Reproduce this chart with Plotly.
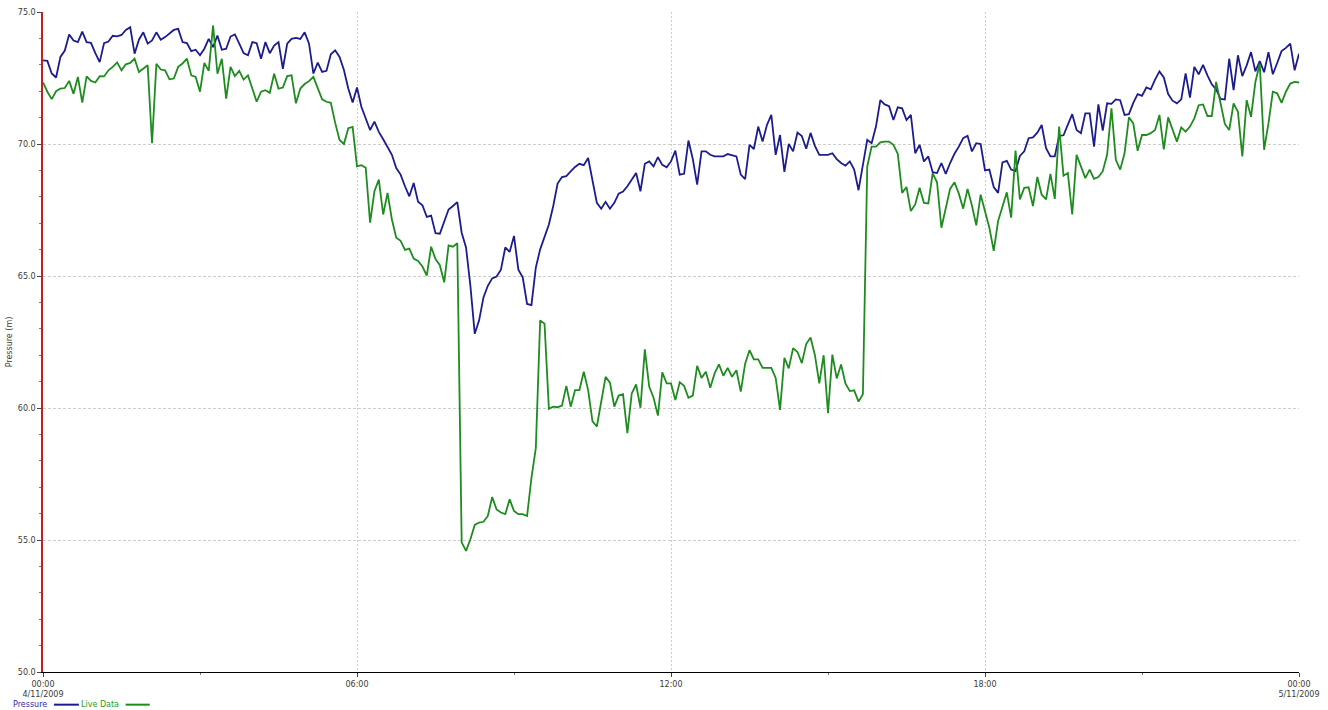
import pandas as pd
import plotly.graph_objects as go

# 5-minute samples over one day, 4 Nov 2009 00:00 -> 5 Nov 2009 00:00
times = pd.date_range("2009-11-04 00:00", periods=289, freq="5min")

pressure = [
    73.17, 73.15, 72.67, 72.52, 73.30, 73.54, 74.15, 73.92, 73.86, 74.26, 73.86, 73.83,
    73.44, 73.10, 73.82, 73.88, 74.10, 74.08, 74.13, 74.32, 74.42, 73.42, 73.95, 74.23,
    73.80, 73.92, 74.23, 73.95, 74.05, 74.20, 74.32, 74.36, 73.86, 73.82, 73.52, 73.57,
    73.36, 73.61, 73.98, 73.67, 74.11, 73.57, 73.61, 74.07, 74.15, 73.80, 73.44, 73.36,
    73.86, 73.82, 73.23, 73.86, 73.44, 73.73, 73.86, 72.85, 73.80, 73.98, 74.02, 73.98,
    74.23, 73.80, 72.67, 73.08, 72.73, 72.77, 73.40, 73.55, 73.30, 72.80, 72.10, 71.57,
    72.14, 71.41, 71.00, 70.53, 70.85, 70.46, 70.18, 69.90, 69.59, 69.09, 68.84, 68.40,
    68.02, 68.52, 67.81, 67.68, 67.24, 67.29, 66.62, 66.60, 67.08, 67.52, 67.65, 67.80,
    66.64, 66.08, 64.63, 62.81, 63.32, 64.19, 64.63, 64.91, 64.98, 65.24, 66.08, 65.91,
    66.52, 65.24, 64.95, 63.94, 63.90, 65.32, 66.01, 66.52, 66.95, 67.65, 68.50, 68.75,
    68.78, 68.96, 69.13, 69.25, 69.20, 69.47, 68.59, 67.77, 67.55, 67.81, 67.55, 67.77,
    68.12, 68.20, 68.40, 68.67, 68.90, 68.21, 69.25, 69.34, 69.15, 69.50, 69.21, 69.12,
    69.34, 69.75, 68.84, 68.87, 70.13, 69.43, 68.46, 69.72, 69.72, 69.59, 69.53, 69.53,
    69.53, 69.62, 69.56, 69.53, 68.84, 68.67, 69.97, 69.81, 70.66, 70.09, 70.72, 71.10,
    69.59, 70.34, 68.94, 70.00, 69.72, 70.43, 70.30, 69.82, 70.42, 69.93, 69.59, 69.59,
    69.59, 69.65, 69.43, 69.28, 69.18, 69.34, 69.03, 68.25, 69.21, 70.16, 70.03, 70.66,
    71.66, 71.50, 71.43, 70.91, 71.39, 71.35, 70.91, 71.10, 69.65, 69.97, 69.34, 69.53,
    68.93, 68.90, 69.28, 68.87, 69.28, 69.63, 69.90, 70.22, 70.31, 69.72, 70.03, 70.00,
    69.00, 69.03, 68.37, 68.15, 69.30, 69.36, 69.03, 68.97, 69.55, 69.72, 70.22, 70.25,
    70.43, 70.72, 69.84, 69.53, 69.53, 70.31, 70.33, 70.72, 71.13, 70.53, 70.41, 71.16,
    71.16, 69.90, 71.50, 70.51, 71.54, 71.52, 71.69, 71.66, 71.10, 71.13, 71.56, 71.89,
    71.82, 72.14, 72.07, 72.44, 72.75, 72.52, 71.89, 71.64, 71.54, 71.69, 72.67, 71.76,
    72.92, 72.64, 73.00, 72.60, 72.26, 72.07, 71.71, 71.69, 73.23, 72.04, 73.36, 72.57,
    72.98, 73.48, 72.75, 73.14, 72.72, 73.48, 72.64, 73.07, 73.52, 73.64, 73.80, 72.79,
    73.42,
]

live_data = [
    72.33, 71.98, 71.70, 72.00, 72.10, 72.12, 72.39, 71.90, 72.54, 71.57, 72.56, 72.39,
    72.33, 72.57, 72.56, 72.79, 72.92, 73.09, 72.79, 73.02, 73.07, 73.23, 72.73, 72.85,
    72.98, 70.03, 73.04, 72.82, 72.79, 72.45, 72.48, 72.92, 73.05, 73.23, 72.60, 72.54,
    71.98, 73.07, 72.77, 74.49, 72.66, 73.23, 71.72, 72.92, 72.57, 72.77, 72.44, 72.60,
    72.14, 71.60, 71.98, 72.04, 71.94, 72.66, 72.10, 72.14, 72.57, 72.60, 71.54, 72.10,
    72.27, 72.38, 72.54, 72.10, 71.69, 71.60, 71.56, 70.80, 70.15, 70.00, 70.60, 70.65,
    69.15, 69.20, 69.10, 67.02, 68.21, 68.65, 67.33, 68.15, 67.14, 66.45, 66.33, 65.99,
    66.04, 65.66, 65.57, 65.36, 65.01, 66.11, 65.64, 65.41, 64.76, 66.16, 66.11, 66.24,
    54.91, 54.59, 55.03, 55.57, 55.66, 55.69, 55.91, 56.63, 56.16, 56.04, 55.98, 56.54,
    56.10, 55.98, 55.98, 55.91, 57.35, 58.48, 63.32, 63.19, 59.97, 60.05, 60.03, 60.09,
    60.84, 60.05, 60.68, 60.68, 61.37, 60.68, 59.49, 59.30, 60.24, 61.18, 60.96, 60.05,
    60.47, 60.52, 59.05, 60.55, 60.89, 60.01, 62.22, 60.81, 60.39, 59.71, 61.35, 60.93,
    60.93, 60.30, 60.97, 60.84, 60.39, 60.47, 61.60, 61.14, 61.37, 60.77, 61.31, 61.65,
    61.22, 61.52, 61.18, 61.43, 60.62, 61.68, 62.19, 61.84, 61.84, 61.52, 61.52, 61.52,
    61.14, 59.93, 61.90, 61.50, 62.27, 62.12, 61.70, 62.42, 62.67, 62.00, 60.93, 62.00,
    59.80, 62.02, 61.12, 61.65, 60.93, 60.64, 60.67, 60.24, 60.52, 69.15, 69.90, 69.90,
    70.06, 70.09, 70.09, 69.97, 69.63, 68.15, 68.37, 67.46, 67.71, 68.34, 67.77, 67.75,
    68.90, 68.55, 66.83, 67.52, 68.30, 68.55, 68.12, 67.55, 68.30, 67.67, 66.92, 68.08,
    67.46, 66.83, 65.95, 67.08, 67.62, 68.17, 67.21, 69.75, 67.90, 68.34, 68.36, 67.65,
    68.75, 68.08, 67.90, 68.87, 67.92, 70.66, 68.80, 68.90, 67.33, 69.59, 69.15, 68.71,
    69.03, 68.68, 68.75, 68.97, 69.59, 71.35, 69.40, 69.03, 69.65, 71.01, 70.78, 69.74,
    70.34, 70.34, 70.41, 70.53, 71.10, 69.80, 71.01, 70.53, 70.09, 70.63, 70.47, 70.66,
    70.97, 71.47, 71.50, 71.06, 71.06, 72.35, 71.54, 70.76, 70.53, 71.54, 71.22, 69.53,
    71.66, 71.03, 72.35, 73.04, 69.78, 70.78, 71.98, 71.92, 71.56, 71.98, 72.29, 72.35,
    72.33,
]

x_tick_vals = ["2009-11-04 00:00", "2009-11-04 06:00", "2009-11-04 12:00",
               "2009-11-04 18:00", "2009-11-05 00:00"]
x_tick_text = ["00:00<br>4/11/2009", "06:00", "12:00", "18:00", "00:00<br>5/11/2009"]
y_tick_vals = [50, 55, 60, 65, 70, 75]

series_names = ["Pressure", "Live Data"]
series_colors = ["#1c1c8e", "#1f8c1f"]
label_colors = ["#2e2ea0", "#2a9a2a"]

FONT = "DejaVu Sans"

fig = go.Figure()
for name, values, color in zip(series_names, [pressure, live_data], series_colors):
    fig.add_trace(go.Scatter(
        x=times, y=values, mode="lines", name=name,
        line=dict(color=color, width=1.8),
        showlegend=False,
    ))

fig.update_layout(
    width=1328, height=710,
    margin=dict(l=41, r=29, t=8, b=38),
    paper_bgcolor="white", plot_bgcolor="white",
    font=dict(family=FONT, size=8, color="#3a3a3a"),
)

fig.update_xaxes(
    type="date",
    range=["2009-11-04 00:00", "2009-11-05 00:00"],
    tickmode="array", tickvals=x_tick_vals, ticktext=x_tick_text,
    ticks="outside", ticklen=4, tickcolor="#444444", tickwidth=1,
    showline=True, linecolor="#000000", linewidth=1,
    showgrid=True, gridcolor="#cdcdcd", gridwidth=1, griddash="2px,2px",
    zeroline=False,
    minor=dict(dtick=3 * 3600 * 1000, tick0="2009-11-04 00:00",
               ticks="outside", ticklen=2, tickcolor="#777777", showgrid=False),
    tickfont=dict(family=FONT, size=8, color="#3a3a3a"),
)

fig.update_yaxes(
    range=[50, 75],
    tickmode="array", tickvals=y_tick_vals, tickformat=".1f",
    ticks="outside", ticklen=4, tickcolor="#444444", tickwidth=1,
    showline=True, linecolor="#c41e1e", linewidth=1.5,
    showgrid=True, gridcolor="#cdcdcd", gridwidth=1, griddash="3px,2px",
    zeroline=False,
    minor=dict(dtick=1, ticks="outside", ticklen=2, tickcolor="#777777", showgrid=False),
    tickfont=dict(family=FONT, size=8, color="#3a3a3a"),
    title=dict(text="Pressure (m)", font=dict(family=FONT, size=8, color="#3a3a3a"),
               standoff=4),
)

# Legend row below the axis: label text followed by a line swatch
legend_y = -0.0495
legend_items = [(-0.0255, 0.0087, 0.0286), (0.0286, 0.0658, 0.0850)]
for (tx, lx0, lx1), name, color, lcolor in zip(legend_items, series_names,
                                               series_colors, label_colors):
    fig.add_annotation(
        x=tx, y=legend_y, xref="paper", yref="paper", text=name, showarrow=False,
        xanchor="left", yanchor="middle",
        font=dict(family=FONT, size=8, color=lcolor),
    )
    fig.add_shape(
        type="line", xref="paper", yref="paper",
        x0=lx0, x1=lx1, y0=legend_y, y1=legend_y,
        line=dict(color=color, width=2),
    )

fig.write_html("out.html")
